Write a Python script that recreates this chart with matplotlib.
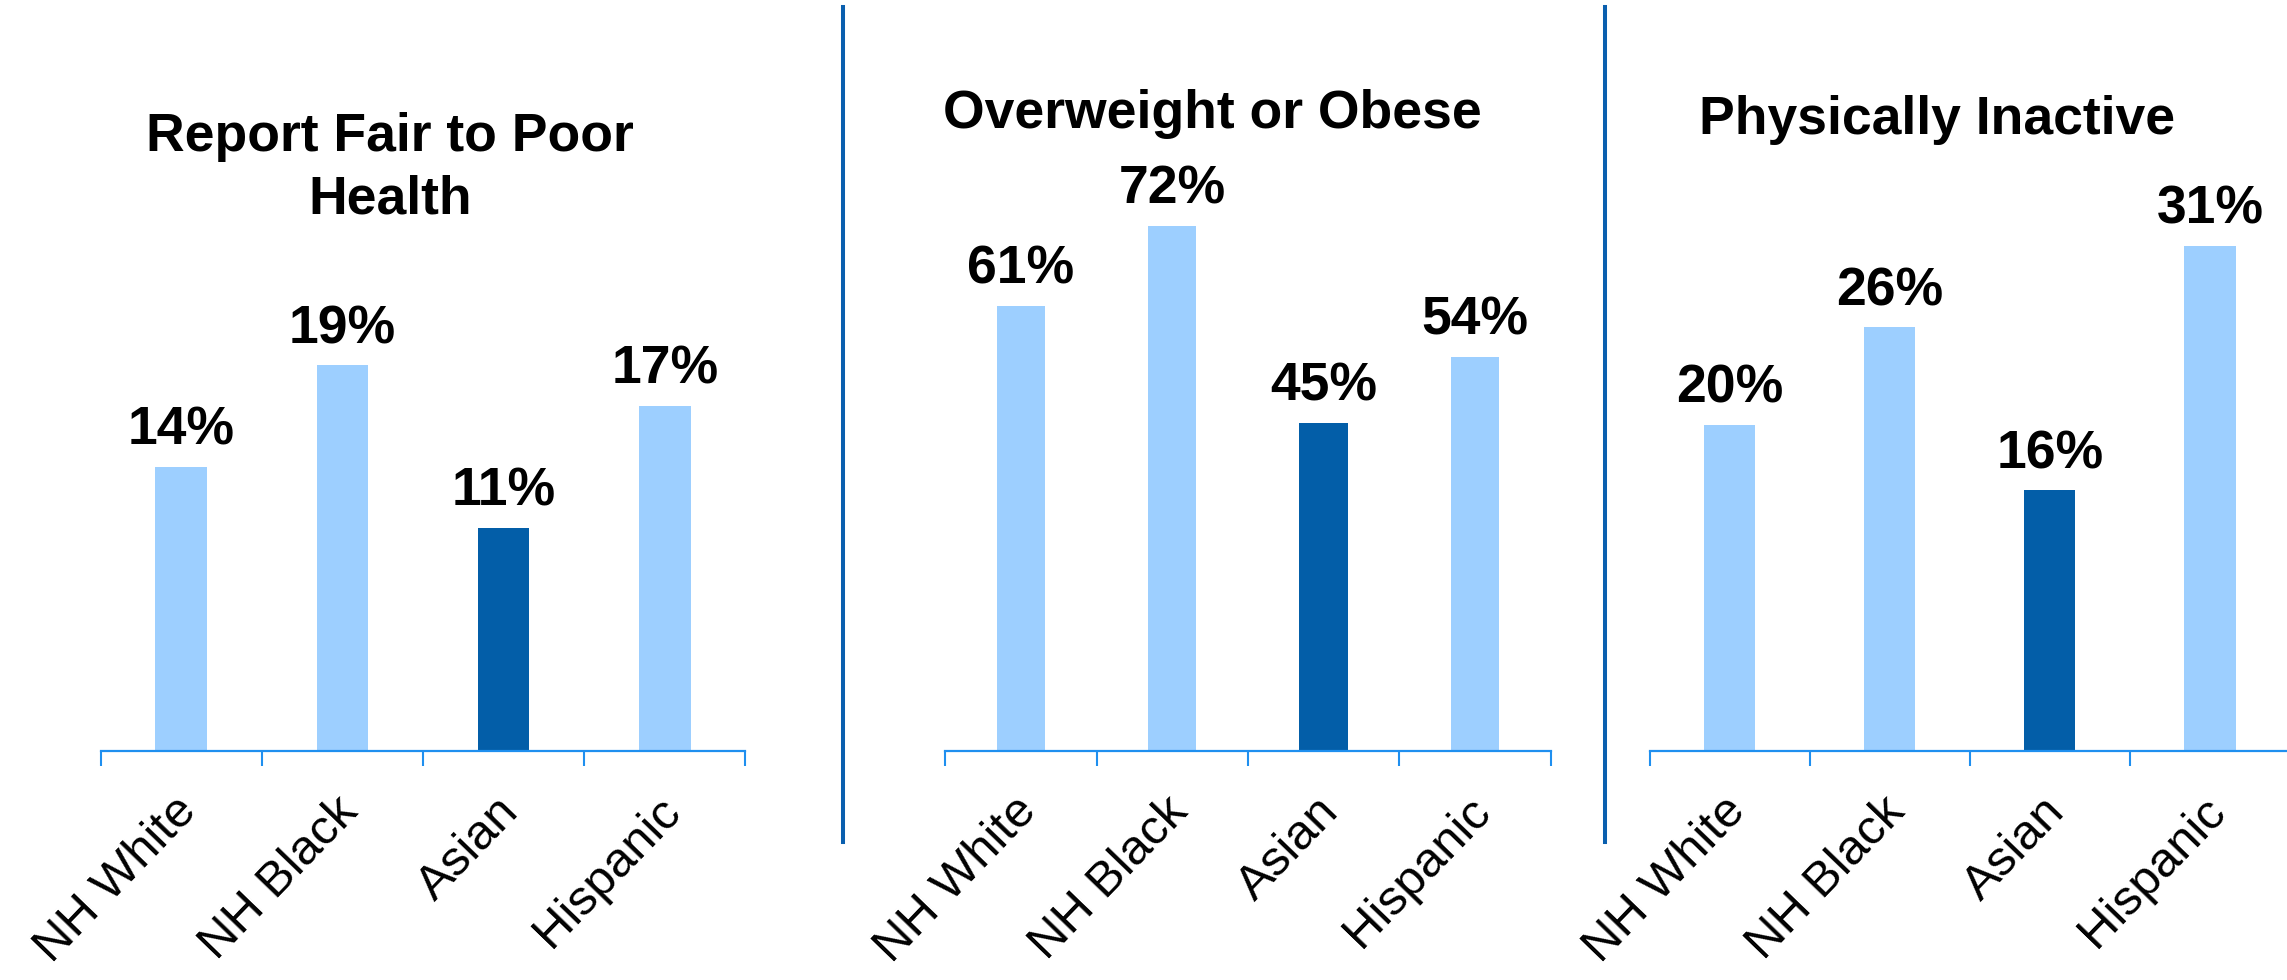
import matplotlib
matplotlib.use('Agg')
import matplotlib.pyplot as plt
from matplotlib.lines import Line2D
from matplotlib.transforms import ScaledTranslation

# data
groups = ['NH White', 'NH Black', 'Asian', 'Hispanic']
fair_poor_health = [14, 19, 11, 17]
overweight_obese = [61, 72, 45, 54]
physically_inactive = [20, 26, 16, 31]
titles = ['Report Fair to Poor\nHealth', 'Overweight or Obese', 'Physically Inactive']

LIGHT = '#9dcfff'
DARK = '#035ea8'
AXIS_BLUE = '#1f8fef'
SEP_BLUE = '#0a5fae'

font = ['Liberation Sans', 'DejaVu Sans']

W, H = 2287, 980
fig = plt.figure(figsize=(W / 100, H / 100), dpi=100)

base_y = 751  # px from top
# (left px, right px, ymax, values, title x px, title baseline px)
panels = [
    (100.6, 745.3, 37.0, fair_poor_health, 390, 214),
    (945.2, 1550.5, 102.9, overweight_obese, 1212, 128),
    (1649.7, 2290.0, 46.1, physically_inactive, 1937, 134),
]

for i, (l, r, ymax, vals, tx, ty) in enumerate(panels):
    ax = fig.add_axes([l / W, (H - base_y) / H, (r - l) / W, base_y / H])
    x = range(len(groups))
    colors = [DARK if g == 'Asian' else LIGHT for g in groups]
    ax.bar(x, vals, width=0.32, color=colors)
    ax.set_xlim(-0.5, 3.5)
    ax.set_ylim(0, ymax)
    for s in ['top', 'right', 'left']:
        ax.spines[s].set_visible(False)
    ax.spines['bottom'].set_color(AXIS_BLUE)
    ax.spines['bottom'].set_linewidth(1.6)
    ax.set_yticks([])
    # boundary tick marks
    ax.set_xticks([-0.5, 0.5, 1.5, 2.5, 3.5], minor=True)
    ax.tick_params(axis='x', which='minor', length=11, width=1.5,
                   color=AXIS_BLUE, direction='out')
    ax.set_xticks(list(x))
    ax.set_xticklabels(groups, fontsize=35.5, family=font)
    ax.tick_params(axis='x', which='major', length=0, pad=27)
    shift = ScaledTranslation(-0.08, 0, fig.dpi_scale_trans)
    for lbl in ax.get_xticklabels():
        lbl.set_rotation(46)
        lbl.set_ha('right')
        lbl.set_va('top')
        lbl.set_rotation_mode('anchor')
        lbl.set_transform(lbl.get_transform() + shift)
    for xi, v in zip(x, vals):
        ax.annotate(f'{v}%', (xi, v), xytext=(0, 16), textcoords='offset points',
                    ha='center', va='baseline', fontsize=38.5, fontweight='bold',
                    family=font)
    fig.text(tx / W, (H - ty) / H, titles[i], ha='center', va='baseline',
             fontsize=38.5, fontweight='bold', family=font,
             linespacing=1.33)

# separator lines
for sx in [842.7, 1604.5]:
    fig.add_artist(Line2D([sx / W, sx / W], [(H - 842) / H, (H - 7) / H],
                          color=SEP_BLUE, linewidth=2.9))

fig.savefig('out.png', dpi=100)
